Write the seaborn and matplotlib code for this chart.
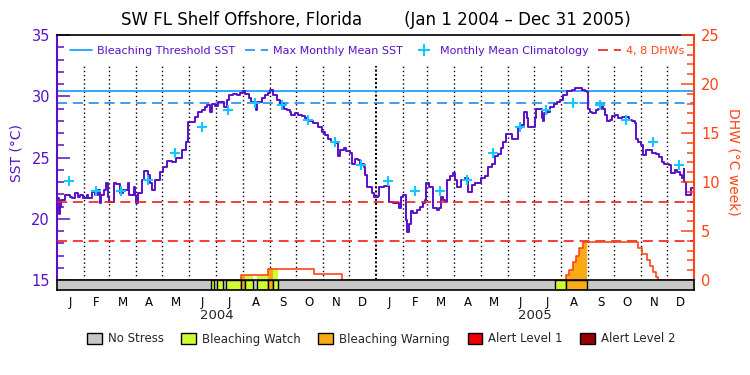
import numpy as np
import seaborn as sns
import matplotlib.pyplot as plt
from matplotlib.lines import Line2D
from matplotlib.patches import Patch

# SST (deg C), day 0 = Jan 1 2004
sst_day = [0, 2, 4, 5, 9, 15, 17, 21, 24, 26, 30, 34, 36, 40, 44, 47, 49, 51, 54, 56,
           58, 60, 65, 68, 72, 76, 81, 83, 88, 90, 91, 93, 97, 100, 104, 107, 109, 112, 118, 122,
           126, 132, 136, 140, 143, 148, 150, 155, 158, 162, 166, 170, 172, 176, 178, 181, 185, 189, 192, 195,
           197, 202, 206, 210, 213, 216, 220, 223, 227, 228, 230, 235, 239, 242, 245, 248, 252, 256, 260, 264,
           267, 269, 273, 277, 281, 285, 288, 294, 300, 304, 308, 311, 315, 319, 322, 325, 329, 332, 336, 339,
           342, 345, 348, 352, 354, 356, 361, 364, 368, 370, 375, 379, 381, 386, 389, 392, 395, 397, 400, 401,
           402, 404, 406, 409, 413, 417, 420, 422, 424, 427, 431, 432, 436, 438, 441, 443, 445, 447, 451, 455,
           457, 459, 462, 464, 468, 472, 476, 480, 484, 487, 491, 495, 499, 503, 506, 510, 512, 515, 519, 522,
           526, 529, 533, 536, 539, 541, 545, 548, 550, 554, 556, 558, 559, 562, 566, 570, 574, 577, 581, 585,
           591, 595, 598, 602, 606, 608, 609, 612, 614, 618, 621, 624, 627, 629, 631, 635, 637, 640, 644, 648,
           652, 656, 660, 663, 664, 667, 670, 673, 676, 679, 683, 687, 691, 694, 696, 700, 702, 705, 709, 712,
           715, 717, 719, 720, 722, 725, 728, 731]
sst_val = [21.7, 20.4, 21.0, 21.5, 21.9, 21.8, 21.7, 22.1, 21.8, 21.9, 21.7, 21.9, 21.7, 22.2, 21.9, 22.35, 21.3, 21.9, 22.35, 22.9,
           21.8, 21.4, 22.9, 22.8, 22.1, 22.35, 22.9, 21.9, 22.6, 21.9, 21.3, 22.1, 23.2, 23.9, 23.6, 22.9, 22.35, 23.2, 23.8, 24.25,
           24.75, 24.65, 25.0, 25.0, 25.6, 26.3, 27.9, 27.9, 28.3, 28.75, 28.9, 29.15, 29.3, 28.75, 29.4, 29.2, 29.55, 29.5, 29.15, 29.7,
           30.1, 30.2, 30.1, 30.3, 30.45, 30.2, 29.85, 29.5, 29.4, 28.9, 29.5, 29.85, 30.1, 30.25, 30.55, 30.1, 29.7, 29.35, 29.0, 28.9,
           28.75, 28.45, 28.65, 28.45, 28.4, 28.2, 28.0, 27.8, 27.5, 27.1, 26.85, 26.55, 26.3, 26.15, 25.1, 25.6, 25.75, 25.5, 25.35, 24.5,
           24.85, 24.8, 24.5, 24.25, 23.55, 22.6, 22.1, 21.75, 21.85, 22.6, 22.65, 22.65, 21.4, 21.3, 21.3, 20.85, 21.8, 21.9, 21.8, 19.9,
           18.95, 19.6, 20.6, 20.45, 20.7, 21.0, 21.25, 21.55, 22.9, 22.6, 22.5, 20.85, 20.7, 20.85, 21.75, 21.55, 21.4, 23.15, 23.45, 23.7,
           23.15, 22.6, 22.6, 23.15, 23.3, 22.2, 22.75, 22.95, 22.9, 23.3, 23.45, 24.2, 24.45, 25.1, 25.3, 25.75, 26.3, 26.95, 26.95, 26.5,
           26.5, 27.4, 27.65, 28.75, 28.2, 27.5, 27.5, 28.2, 28.95, 29.0, 28.2, 27.95, 28.6, 28.75, 29.15, 29.4, 29.55, 29.7, 30.1, 30.45,
           30.5, 30.65, 30.65, 30.5, 30.45, 30.35, 29.0, 28.75, 28.6, 28.9, 29.0, 29.3, 29.0, 28.45, 28.0, 28.05, 28.4, 28.45, 28.2, 28.3,
           28.3, 28.1, 27.95, 27.8, 26.55, 26.3, 26.0, 25.2, 25.6, 25.65, 25.4, 25.3, 25.05, 24.65, 24.45, 24.5, 24.4, 23.75, 23.95, 23.85,
           23.55, 23.3, 24.1, 23.0, 21.95, 21.95, 22.5, 22.6]

# monthly mean climatology, Jan..Dec
clim_sst = [23.05, 22.3, 22.25, 23.15, 25.4, 27.45, 28.85, 29.45, 29.3, 28.05, 26.25, 24.4]
mmm_sst = 29.45
thresh_sst = 30.45

# degree heating weeks (step values)
dhw_day = [0, 211, 242, 295, 327, 584, 588, 592, 596, 599, 604, 608, 667, 671, 677, 680, 684, 687, 690, 731]
dhw_val = [0, 0.5, 1.1, 0.6, 0, 0.5, 1.0, 1.8, 2.4, 3.3, 3.85, 3.9, 3.25, 2.7, 2.05, 1.45, 0.85, 0.35, 0, 0]
dhw_marks = [4, 8]

# bleaching stress periods (1 = watch, 2 = warning)
stress_start = [177, 184, 194, 211, 216, 229, 242, 248, 572, 584]
stress_end = [180, 191, 211, 216, 225, 242, 248, 254, 584, 608]
stress_level = [1, 1, 1, 2, 1, 1, 2, 1, 1, 2]
stress_names = ['No Stress', 'Bleaching Watch', 'Bleaching Warning', 'Alert Level 1', 'Alert Level 2']
stress_colors = ['#c8c8c8', '#ccff33', '#faaa14', '#ee0000', '#960000']

month_letters = list('JFMAMJJASOND') * 2
month_days = [31, 29, 31, 30, 31, 30, 31, 31, 30, 31, 30, 31,
              31, 28, 31, 30, 31, 30, 31, 31, 30, 31, 30, 31]
years = ['2004', '2005']

sns.set_theme(style='white')
plt.rcParams['font.family'] = ['DejaVu Sans']

purple = '#5a10c8'
redorange = '#ff4419'
cyan = '#14c8ff'

fig = plt.figure(figsize=(7.5, 3.75), dpi=100)
ax = fig.add_axes([57/750, 95/375, 637/750, 245/375])
ax2 = ax.twinx()
axb = fig.add_axes([57/750, 85/375, 637/750, 10/375])

edges = np.concatenate([[0], np.cumsum(month_days)])
ndays = edges[-1]

# month dividers
inner = [e for i, e in enumerate(edges[1:-1]) if i != 11]
ax.vlines(inner, 15, 32.5, colors='black', linestyles=[(0, (1, 2))], lw=1, zorder=1)
ax.vlines(edges[12], 15, 32.5, colors='black', linestyles=[(0, (1, 1))], lw=1.5, zorder=1)

ax.axhline(thresh_sst, color='#0a9bff', lw=1.2, zorder=2)
ax.axhline(mmm_sst, color='#1e8cf0', lw=1.2, ls=(0, (6, 3.5)), zorder=2)

sns.lineplot(x=sst_day, y=sst_val, ax=ax, color=purple, lw=1.4,
             drawstyle='steps-post', zorder=3)
clim_x = edges[:-1] + 14
sns.scatterplot(x=clim_x, y=clim_sst * 2, ax=ax, marker='+', s=45,
                color=cyan, linewidth=1.5, zorder=4)

# DHW on the right axis
for d in dhw_marks:
    ax2.axhline(d, color='#f01e1e', lw=1.2, ls=(0, (6, 3.5)))
dd = np.array(dhw_day)
dv = np.array(dhw_val)
for s, e, lv in zip(stress_start, stress_end, stress_level):
    t = np.arange(s, e + 1)
    v = dv[np.searchsorted(dd, t, side='right') - 1]
    ax2.fill_between(t, 0, v, step='post', color=stress_colors[lv], lw=0)
sns.lineplot(x=dhw_day, y=dhw_val, ax=ax2, color=redorange, lw=1.2,
             drawstyle='steps-post')

ax.set_xlim(0, ndays)
ax.set_ylim(15, 35)
ax2.set_ylim(0, 25)
ax.set_xticks([])
ax2.set_xticks([])
ax.set_xlabel('')
ax.set_ylabel('')
ax2.set_ylabel('')

ax.set_yticks(range(15, 36, 5))
ax.set_yticks(range(15, 36), minor=True)
ax.tick_params(axis='y', which='major', direction='in', length=9.5, width=1.1,
               color=purple, labelcolor=purple, labelsize=10.5, pad=5, left=True, right=False)
ax.tick_params(axis='y', which='minor', direction='in', length=5, width=1.1,
               color=purple, left=True, right=False)
ax2.set_yticks(range(0, 26, 5))
ax2.set_yticks(range(0, 26), minor=True)
ax2.tick_params(axis='y', which='major', direction='in', length=9.5, width=1.1,
                color=redorange, labelcolor=redorange, labelsize=10.5, pad=5, right=True, left=False)
ax2.tick_params(axis='y', which='minor', direction='in', length=5, width=1.1,
                color=redorange, right=True, left=False)

ax.spines['left'].set_color(purple)
ax.spines['left'].set_linewidth(1.5)
ax.spines['top'].set_color('black')
ax.spines['top'].set_linewidth(1.2)
ax.spines['right'].set_visible(False)
ax.spines['bottom'].set_visible(False)
ax2.spines['left'].set_visible(False)
ax2.spines['bottom'].set_visible(False)
ax2.spines['top'].set_visible(False)
ax2.spines['right'].set_color(redorange)
ax2.spines['right'].set_linewidth(1.5)

# stress bar
axb.set_facecolor(stress_colors[0])
widths = [e - s for s, e in zip(stress_start, stress_end)]
axb.bar(stress_start, 1, width=widths, align='edge',
        color=[stress_colors[l] for l in stress_level], edgecolor='black', linewidth=1)
axb.set_xlim(0, ndays)
axb.set_ylim(0, 1)
axb.set_yticks([])
for sp in axb.spines.values():
    sp.set_color('black')
    sp.set_linewidth(1.2)
    sp.set_visible(True)
mid = (edges[:-1] + edges[1:]) / 2
axb.set_xticks(mid, month_letters)
axb.tick_params(axis='x', length=0, pad=4, labelsize=8.5, labelcolor='black', bottom=True)
for i, yr in enumerate(years):
    axb.text((edges[12 * i] + edges[12 * i + 12]) / 2, -2.6, yr,
             transform=axb.get_xaxis_transform(), ha='center', va='center', fontsize=9.5)

fig.text(17/750, 1 - 153/375, 'SST (°C)', rotation=90, ha='center', va='center',
         color=purple, fontsize=10)
fig.text(733/750, 1 - 162/375, 'DHW (°C week)', rotation=270, ha='center', va='center',
         color=redorange, fontsize=10)
fig.text(376/750, 1 - 20/375, 'SW FL Shelf Offshore, Florida        (Jan 1 2004 \u2013 Dec 31 2005)',
         ha='center', va='center', fontsize=12, color='black')

# legend on top
handles = [
    Line2D([], [], color='#0a9bff', lw=1.2),
    Line2D([], [], color='#1e8cf0', lw=1.2, ls=(0, (6, 3.5))),
    Line2D([], [], color=cyan, marker='+', ls='none', ms=9, mew=1.5),
    Line2D([], [], color='#f01e1e', lw=1.2, ls=(0, (6, 3.5))),
]
labels = ['Bleaching Threshold SST', 'Max Monthly Mean SST', 'Monthly Mean Climatology', '4, 8 DHWs']
leg = ax2.legend(handles, labels, ncol=4, loc='center left', bbox_to_anchor=(13/637, 229/245),
                 frameon=False, fontsize=8, handlelength=2.0, handletextpad=0.45,
                 columnspacing=0.9, borderpad=0, borderaxespad=0)
for t, c in zip(leg.get_texts(), [purple, purple, purple, redorange]):
    t.set_color(c)

# stress legend
patches = [Patch(facecolor=c, edgecolor='black', label=n) for c, n in zip(stress_colors, stress_names)]
fig.legend(handles=patches, loc='center left', bbox_to_anchor=(87/750, 1 - 339/375), ncol=5,
           frameon=False, fontsize=8.5, handlelength=1.25, handleheight=1.15, handletextpad=0.5,
           columnspacing=1.5, borderpad=0, borderaxespad=0)

fig.savefig('out.png', dpi=100)
